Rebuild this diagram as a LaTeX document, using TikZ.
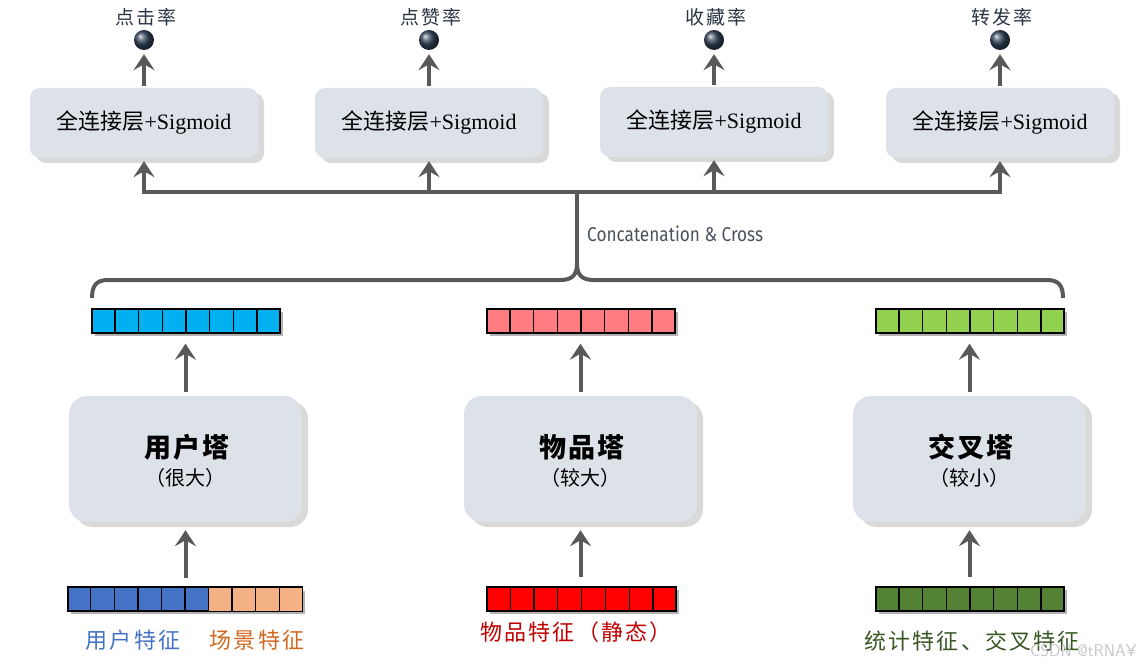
\documentclass[tikz,border=0pt]{standalone}
\usepackage{fontspec}
\usepackage{graphicx}
\setmainfont{Liberation Serif}
\newfontfamily\cjk{Noto Sans CJK SC}
\newfontfamily\fira{Fira Sans}
\usetikzlibrary{arrows.meta,shadows,shadings,calc}
\definecolor{boxgray}{HTML}{DDE2E8}
\definecolor{linegray}{HTML}{595959}
\definecolor{ballc}{HTML}{34445C}
\definecolor{lbl}{HTML}{2B3443}
\definecolor{vcyan}{HTML}{00B0F0}
\definecolor{vpink}{HTML}{FF7C80}
\definecolor{vlgreen}{HTML}{92D050}
\definecolor{ublue}{HTML}{4472C4}
\definecolor{sorange}{HTML}{F4B183}
\definecolor{vred}{HTML}{FF0000}
\definecolor{vdgreen}{HTML}{548235}
\definecolor{tblue}{HTML}{4472C4}
\definecolor{torange}{HTML}{D0691E}
\definecolor{tred}{HTML}{C00000}
\definecolor{tgreen}{HTML}{385723}
\newcommand\mygrid[3]{\foreach \k in {1,...,#2}{\draw[gridline] ($(#1.south west)!\k/#3!(#1.south east)$) -- ($(#1.north west)!\k/#3!(#1.north east)$);}}
\begin{document}
\begin{tikzpicture}[x=1pt,y=-1pt,
  line/.style={draw=linegray, line width=4pt, line join=miter},
  arr/.style={line, -{Stealth[length=16pt,width=21pt,inset=6pt]}},
  softshadow/.style={drop shadow={shadow xshift=6pt, shadow yshift=-5pt, opacity=0.15, fill=black}},
  fcbox/.style={rectangle, rounded corners=10pt, fill=boxgray, minimum width=228pt, minimum height=70pt, inner sep=0pt, softshadow},
  tower/.style={rectangle, rounded corners=18pt, fill=boxgray, minimum width=233pt, minimum height=126pt, inner sep=0pt, softshadow},
  ball/.style={circle, minimum size=20pt, inner sep=0pt, ball color=ballc},
  toplbl/.style={text=lbl, font=\cjk\fontsize{19}{22}\selectfont\addfontfeature{LetterSpace=10}},
  fctext/.style={text=black, font=\fontsize{22}{26}\selectfont},
  ttl/.style={text=black, font=\cjk\bfseries\fontsize{27}{32}\selectfont\addfontfeature{LetterSpace=8}},
  sub/.style={text=black, font=\cjk\fontsize{20}{24}\selectfont},
  vec/.style={rectangle, draw=black, line width=1.4pt, minimum height=24pt, inner sep=0pt, drop shadow={shadow xshift=3pt, shadow yshift=-3pt, opacity=0.3, fill=black}},
  gridline/.style={draw=black, line width=1.2pt},
  feat/.style={font=\cjk\fontsize{22}{26}\selectfont\addfontfeature{LetterSpace=10}},
]
\useasboundingbox (0,0) rectangle (1142,668);

% top fully connected boxes
\foreach \n/\x/\y/\t in {1/144/123/点击率, 2/429/123/点赞率, 3/714/122/收藏率, 4/1000/123/转发率}{
  \node[fcbox] (f\n) at (\x,\y) {};
  \node[fctext] (ft\n) at (\x,\y) {{\cjk 全连接层}+Sigmoid};
  \node[ball] (b\n) at (\x,40) {};
  \node[toplbl] (l\n) at (\x+2,17) {\t};
  \draw[arr, shorten >=4pt, shorten <=2pt] (f\n.north) -- (b\n.south);
}

% bus
\coordinate (bus) at (577,192);
\foreach \n in {1,...,4}{\draw[arr, shorten >=3pt] (bus) -| (f\n.south);}

% brace
\coordinate (cusp) at (577,264);
\coordinate (bl) at (92,298);
\coordinate (br) at (1063,298);
\draw[line] (bus) -- (cusp);
\draw[line, line join=round] (bl) .. controls (92,286) and (96,280) .. (108,280) -- (560,280)
  .. controls (571,280) and (577,276) .. (cusp)
  .. controls (577,276) and (583,280) .. (594,280) -- (1047,280)
  .. controls (1059,280) and (1063,286) .. (br);
\node[anchor=west, text=lbl!85, inner sep=0pt, font=\fira\fontsize{20}{24}\selectfont] (cc) at (587,234) {\scalebox{0.86}[1]{Concatenation \& Cross}};

% embedding vectors (top)
\node[vec, fill=vcyan, minimum width=188pt] (v1) at (186,321) {};
\node[vec, fill=vpink, minimum width=188pt] (v2) at (581,321) {};
\node[vec, fill=vlgreen, minimum width=188pt] (v3) at (970,321) {};
\mygrid{v1}{7}{8}
\mygrid{v2}{7}{8}
\mygrid{v3}{7}{8}

% towers
\node[tower] (t1) at (185.5,459) {};
\node[tower] (t2) at (580.5,459) {};
\node[tower] (t3) at (969.5,459) {};
\node[ttl] (t1a) at (187,447) {用户塔};
\node[sub] (t1b) at (185,478) {（很大）};
\node[ttl] (t2a) at (582,447) {物品塔};
\node[sub] (t2b) at (580,478) {（较大）};
\node[ttl] (t3a) at (971,447) {交叉塔};
\node[sub] (t3b) at (969,478) {（较小）};

\draw[arr, shorten >=10pt, shorten <=4pt] (t1.north) -- (v1.south -| t1.north);
\draw[arr, shorten >=10pt, shorten <=4pt] (t2.north) -- (v2.south -| t2.north);
\draw[arr, shorten >=10pt, shorten <=4pt] (t3.north) -- (v3.south -| t3.north);

% input vectors (bottom)
\node[vec, fill=ublue, minimum width=234pt, minimum height=23pt] (u1) at (185,599) {};
\fill[sorange] ($(u1.south west)!0.6!(u1.south east)$) rectangle (u1.north east);
\draw[line width=1.4pt] (u1.south west) rectangle (u1.north east);
\mygrid{u1}{9}{10}
\node[vec, fill=vred, minimum width=189pt] (u2) at (581.5,599) {};
\mygrid{u2}{7}{8}
\node[vec, fill=vdgreen, minimum width=188pt] (u3) at (970,599) {};
\mygrid{u3}{7}{8}

\draw[arr, shorten >=8pt, shorten <=9pt] (u1.north -| t1.south) -- (t1.south);
\draw[arr, shorten >=8pt, shorten <=9pt] (u2.north -| t2.south) -- (t2.south);
\draw[arr, shorten >=8pt, shorten <=9pt] (u3.north -| t3.south) -- (t3.south);

% feature labels
\node[feat, text=tblue] (fl1) at (133,640) {用户特征};
\node[feat, text=torange] (fl2) at (257,640) {场景特征};
\node[feat, text=tred] (fl3) at (576,632) {物品特征（静态）};
\node[feat, text=tgreen] (fl4) at (972,641) {统计特征、交叉特征};

% watermark
\node[anchor=east, text=black!22, font=\fontsize{17}{20}\selectfont\sffamily] (wm) at (1140,651) {CSDN @tRNA¥};
\end{tikzpicture}
\end{document}
